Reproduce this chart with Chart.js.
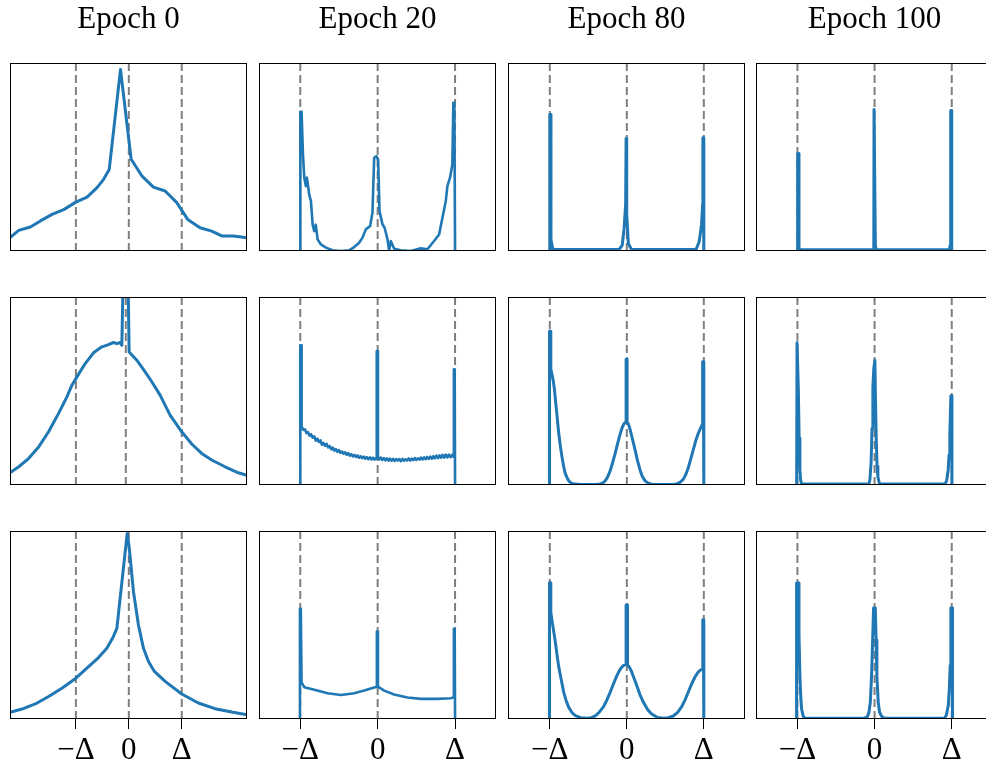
<!DOCTYPE html>
<html>
<head>
<meta charset="utf-8">
<script src="https://cdn.jsdelivr.net/npm/chart.js@4.4.1/dist/chart.umd.min.js"></script>
<style>
  html, body { margin: 0; padding: 0; background: #fff; overflow: hidden; width: 986px; height: 771px; }
  canvas { position: absolute; }
</style>
</head>
<body>
<script>
// Column titles and tick labels
const epochTitles = ['Epoch 0', 'Epoch 20', 'Epoch 80', 'Epoch 100'];
const tickValues = [-1, 0, 1];
const tickLabels = ['\u2212\u0394', '0', '\u0394'];

// dashed guide lines at -Delta, 0, Delta (row 2 of epoch 0 has its zero line a bit to the left)
const guideLines = [-1, 0, 1];
const guideLinesShifted = [-1, -0.057, 1];

// histogram curves, [x in units of Delta, height as fraction of the panel]
const epoch0Row1 = [[-2.245,0.071],[-2.08,0.11],[-1.86,0.128],[-1.67,0.16],[-1.45,0.195],[-1.23,0.22],[-1.0,0.26],[-0.79,0.287],[-0.6,0.337],[-0.48,0.38],[-0.37,0.434],[-0.157,0.966],[0.044,0.488],[0.245,0.4],[0.465,0.34],[0.686,0.319],[0.906,0.257],[1.113,0.168],[1.346,0.124],[1.566,0.106],[1.755,0.08],[1.975,0.08],[2.233,0.071]];
const epoch0Row2 = [[-2.245,0.065],[-2.08,0.097],[-1.89,0.142],[-1.7,0.204],[-1.516,0.283],[-1.327,0.381],[-1.17,0.469],[-1.075,0.531],[-0.98,0.575],[-0.824,0.646],[-0.667,0.703],[-0.509,0.735],[-0.384,0.747],[-0.289,0.758],[-0.226,0.752],[-0.164,0.758],[-0.132,0.743],[-0.1,1.2],[-0.02,1.2],[0.006,0.708],[0.151,0.664],[0.308,0.602],[0.434,0.549],[0.591,0.478],[0.78,0.372],[1.0,0.283],[1.189,0.218],[1.377,0.168],[1.566,0.133],[1.818,0.097],[2.069,0.065],[2.233,0.051]];
const epoch0Row3 = [[-2.245,0.035],[-2.019,0.053],[-1.767,0.08],[-1.516,0.12],[-1.264,0.164],[-1.0,0.217],[-0.761,0.279],[-0.572,0.327],[-0.415,0.376],[-0.308,0.429],[-0.226,0.482],[-0.031,0.986],[0.006,0.915],[0.088,0.677],[0.182,0.5],[0.277,0.376],[0.371,0.306],[0.484,0.253],[0.686,0.2],[1.0,0.133],[1.314,0.085],[1.629,0.055],[1.943,0.037],[2.233,0.023]];

const epoch20Row1 = [[-1.0,0],[-0.999,0.74],[-0.983,0.74],[-0.965,0.513],[-0.948,0.39],[-0.927,0.345],[-0.914,0.39],[-0.884,0.3],[-0.862,0.265],[-0.84,0.14],[-0.819,0.106],[-0.8,0.14],[-0.776,0.062],[-0.733,0.035],[-0.669,0.018],[-0.583,0.004],[-0.475,0],[-0.368,0.004],[-0.303,0.021],[-0.239,0.044],[-0.196,0.071],[-0.153,0.115],[-0.097,0.133],[-0.067,0.204],[-0.045,0.496],[-0.019,0.504],[0.006,0.487],[0.024,0.212],[0.062,0.142],[0.09,0.124],[0.127,0.062],[0.148,0],[0.17,0.053],[0.213,0.012],[0.3,0.004],[0.428,0],[0.557,0.014],[0.643,0.009],[0.729,0.053],[0.794,0.088],[0.837,0.177],[0.88,0.265],[0.901,0.345],[0.935,0.39],[0.965,0.46],[0.978,0.788],[0.991,0.788],[1.0,0]];
const epoch20Row2 = [[-1.0,0],[-1.0,0.743],[-0.99,0.743],[-0.985,0.33],
  [-0.98,0.31],[-0.96,0.293],[-0.94,0.296],[-0.92,0.276],[-0.9,0.281],[-0.88,0.262],[-0.86,0.27],[-0.84,0.252],[-0.82,0.259],[-0.8,0.236],
  [-0.78,0.247],[-0.76,0.229],[-0.74,0.238],[-0.72,0.214],[-0.7,0.224],[-0.68,0.208],[-0.66,0.219],[-0.64,0.2],[-0.62,0.207],[-0.6,0.19],
  [-0.58,0.199],[-0.56,0.183],[-0.54,0.191],[-0.52,0.176],[-0.5,0.186],[-0.48,0.171],[-0.46,0.178],[-0.44,0.166],[-0.42,0.174],[-0.4,0.161],
  [-0.38,0.169],[-0.36,0.156],[-0.34,0.164],[-0.32,0.152],[-0.3,0.16],[-0.28,0.149],[-0.26,0.157],[-0.24,0.145],[-0.22,0.153],[-0.2,0.143],
  [-0.18,0.151],[-0.16,0.14],[-0.14,0.148],[-0.12,0.137],[-0.1,0.147],[-0.08,0.136],[-0.06,0.145],[-0.04,0.135],[-0.02,0.144],
  [-0.012,0.14],[-0.011,0.712],[0.0,0.712],[0.004,0.145],
  [0.02,0.136],[0.04,0.146],[0.06,0.133],[0.08,0.143],[0.1,0.131],[0.12,0.142],[0.14,0.13],[0.16,0.14],[0.18,0.129],[0.2,0.139],
  [0.22,0.128],[0.24,0.137],[0.26,0.13],[0.28,0.138],[0.3,0.127],[0.32,0.139],[0.34,0.129],[0.36,0.137],[0.38,0.131],[0.4,0.141],
  [0.42,0.13],[0.44,0.14],[0.46,0.132],[0.48,0.143],[0.5,0.133],[0.52,0.142],[0.54,0.135],[0.56,0.146],[0.58,0.136],[0.6,0.147],
  [0.62,0.137],[0.64,0.149],[0.66,0.139],[0.68,0.151],[0.7,0.14],[0.72,0.153],[0.74,0.142],[0.76,0.156],[0.78,0.143],[0.8,0.157],
  [0.82,0.145],[0.84,0.16],[0.86,0.146],[0.88,0.161],[0.9,0.147],[0.92,0.162],[0.94,0.148],[0.96,0.16],[0.98,0.15],
  [0.985,0.616],[0.995,0.616],[1.0,0]];
const epoch20Row3 = [[-1.006,0],[-1.004,0.586],[-0.993,0.586],[-0.983,0.195],[-0.948,0.169],[-0.819,0.156],[-0.647,0.137],[-0.475,0.128],[-0.303,0.137],[-0.174,0.151],[-0.067,0.165],[-0.012,0.172],[-0.01,0.465],[0.002,0.465],[0.004,0.172],[0.084,0.151],[0.213,0.13],[0.385,0.114],[0.557,0.107],[0.772,0.107],[0.944,0.11],[0.978,0.115],[0.985,0.48],[0.995,0.48],[1.0,0]];

const epoch80Row1 = [[-1.005,0],[-1.0,0.726],[-0.99,0.726],[-0.985,0.06],[-0.96,0.008],[-0.1,0.008],[-0.06,0.03],[-0.035,0.12],[-0.015,0.25],[-0.009,0.598],[-0.003,0.598],[0.0,0.2],[0.02,0.04],[0.06,0.008],[0.9,0.008],[0.94,0.05],[0.97,0.14],[0.985,0.25],[0.988,0.602],[0.995,0.602],[1.0,0]];
const epoch80Row2 = [[-1.009,0],[-1.004,0.818],[-0.991,0.818],[-0.987,0.619],[-0.97,0.585],[-0.957,0.558],[-0.94,0.51],[-0.927,0.451],[-0.91,0.385],[-0.897,0.327],[-0.88,0.262],[-0.862,0.204],[-0.84,0.145],[-0.819,0.097],[-0.8,0.062],[-0.776,0.039],[-0.75,0.02],[-0.72,0.01],[-0.68,0.005],[-0.6,0.003],[-0.4,0.003],[-0.345,0.006],[-0.31,0.011],[-0.28,0.022],[-0.25,0.042],[-0.216,0.075],[-0.185,0.118],[-0.151,0.168],[-0.12,0.22],[-0.086,0.272],[-0.06,0.306],[-0.034,0.328],[-0.009,0.336],[-0.009,0.669],[0.004,0.669],[0.004,0.336],[0.02,0.325],[0.043,0.295],[0.07,0.25],[0.108,0.186],[0.14,0.128],[0.172,0.08],[0.2,0.047],[0.237,0.022],[0.28,0.009],[0.323,0.004],[0.6,0.003],[0.647,0.006],[0.69,0.014],[0.733,0.03],[0.765,0.055],[0.797,0.09],[0.83,0.138],[0.862,0.186],[0.895,0.235],[0.927,0.274],[0.955,0.3],[0.978,0.319],[0.985,0.655],[0.995,0.655],[1.0,0]];
const epoch80Row3 = [[-1.009,0],[-1.004,0.725],[-0.991,0.725],[-0.987,0.568],[-0.97,0.52],[-0.948,0.462],[-0.925,0.4],[-0.905,0.337],[-0.885,0.28],[-0.862,0.231],[-0.84,0.185],[-0.819,0.142],[-0.79,0.1],[-0.754,0.062],[-0.71,0.033],[-0.668,0.018],[-0.6,0.007],[-0.517,0.004],[-0.46,0.007],[-0.41,0.016],[-0.36,0.035],[-0.302,0.066],[-0.26,0.1],[-0.216,0.142],[-0.17,0.19],[-0.129,0.231],[-0.09,0.262],[-0.052,0.282],[-0.009,0.293],[-0.009,0.607],[0.004,0.607],[0.009,0.288],[0.035,0.275],[0.065,0.249],[0.095,0.215],[0.129,0.178],[0.17,0.13],[0.216,0.089],[0.27,0.05],[0.323,0.027],[0.4,0.008],[0.474,0.004],[0.54,0.007],[0.603,0.016],[0.66,0.035],[0.711,0.064],[0.755,0.1],[0.797,0.142],[0.84,0.185],[0.884,0.222],[0.92,0.246],[0.948,0.258],[0.983,0.266],[0.987,0.528],[0.995,0.528],[1.0,0]];

const epoch100Row1 = [[-1.0,0],[-0.997,0.519],[-0.985,0.519],[-0.98,0.02],[-0.97,0.006],[-0.02,0.006],[-0.01,0.04],[-0.007,0.752],[0.005,0.752],[0.01,0.03],[0.02,0.006],[0.97,0.006],[0.98,0.03],[0.987,0.747],[0.997,0.747],[1.0,0]];
const epoch100Row2 = [[-1.01,0],[-1.005,0.756],[-0.995,0.756],[-0.988,0.504],[-0.978,0.25],[-0.968,0.08],[-0.958,0.025],[-0.946,0.005],[-0.073,0.005],[-0.06,0.03],[-0.045,0.12],[-0.033,0.3],[-0.022,0.52],[-0.01,0.62],[0.004,0.664],[0.012,0.45],[0.022,0.239],[0.032,0.1],[0.043,0.044],[0.06,0.012],[0.073,0.005],[0.914,0.005],[0.935,0.025],[0.954,0.08],[0.966,0.16],[0.976,0.274],[0.989,0.473],[1.0,0.473],[1.003,0]];
const epoch100Row3 = [[-1.013,0],[-1.011,0.723],[-0.99,0.723],[-0.98,0.45],[-0.968,0.231],[-0.957,0.12],[-0.946,0.053],[-0.925,0.015],[-0.903,0.004],[-0.129,0.004],[-0.09,0.015],[-0.073,0.036],[-0.055,0.09],[-0.039,0.231],[-0.025,0.42],[-0.013,0.591],[0.009,0.591],[0.02,0.42],[0.03,0.231],[0.047,0.09],[0.065,0.036],[0.09,0.015],[0.129,0.004],[0.903,0.004],[0.93,0.02],[0.955,0.071],[0.968,0.15],[0.98,0.284],[0.989,0.591],[1.006,0.591],[1.01,0]];

const panels = [
  [epoch0Row1, epoch20Row1, epoch80Row1, epoch100Row1],
  [epoch0Row2, epoch20Row2, epoch80Row2, epoch100Row2],
  [epoch0Row3, epoch20Row3, epoch80Row3, epoch100Row3]
];

// x limits of each column (in units of Delta)
const xLimits = [[-2.245, 2.233], [-1.533, 1.529], [-1.543, 1.535], [-1.537, 1.535]];

// layout in page pixels
const colLeft = [10, 259, 508, 756];
const rowTop = [63, 297, 531];
const panelW = 237;
const panelH = 188;
const pad = 2;
const axisH = 52;

const serif = "'Liberation Serif', 'DejaVu Serif', serif";

// draws the box around each panel
const framePlugin = {
  id: 'frame',
  afterDraw(chart) {
    const { ctx, chartArea: a } = chart;
    ctx.save();
    ctx.strokeStyle = '#000';
    ctx.lineWidth = 1;
    ctx.strokeRect(a.left + 0.5, a.top + 0.5, a.right - a.left - 1, a.bottom - a.top - 1);
    ctx.restore();
  }
};

function makePanel(row, col) {
  const canvas = document.createElement('canvas');
  const top = row === 0 ? 0 : rowTop[row] - pad;
  const height = (rowTop[row] - top) + panelH + (row === 2 ? axisH : pad);
  canvas.width = panelW + 2 * pad;
  canvas.height = height;
  canvas.style.left = (colLeft[col] - pad) + 'px';
  canvas.style.top = top + 'px';
  document.body.appendChild(canvas);

  const lines = (row === 1 && col === 0) ? guideLinesShifted : guideLines;

  // the curve goes first so it is drawn over the dashed guides
  const datasets = [{
    data: panels[row][col].map(([x, y]) => ({ x, y })),
    borderColor: '#1f77b4',
    borderWidth: col === 1 ? 2.6 : 3,
    borderJoinStyle: 'round',
    pointRadius: 0,
    tension: 0
  }];

  lines.forEach(p => datasets.push({
    data: [{ x: p, y: 0 }, { x: p, y: 1 }],
    borderColor: '#7f7f7f',
    borderWidth: 2,
    borderDash: [8, 4],
    pointRadius: 0
  }));

  new Chart(canvas, {
    type: 'line',
    data: { datasets },
    options: {
      responsive: false,
      animation: false,
      devicePixelRatio: 1,
      events: [],
      layout: { padding: { left: pad, right: pad, top: row === 0 ? 0 : pad, bottom: row === 2 ? 0 : pad } },
      plugins: {
        legend: { display: false },
        tooltip: { enabled: false },
        title: {
          display: row === 0,
          text: epochTitles[col],
          color: '#000',
          font: { family: serif, size: 31, weight: 'normal', lineHeight: 1.2 },
          padding: { top: 1, bottom: 24.8 }
        }
      },
      scales: {
        x: {
          type: 'linear',
          min: xLimits[col][0],
          max: xLimits[col][1],
          display: row === 2,
          afterBuildTicks: s => { s.ticks = tickValues.map(v => ({ value: v })); },
          afterFit: s => { s.height = row === 2 ? axisH : 0; },
          grid: { display: true, drawOnChartArea: false, drawTicks: true, tickLength: 10, color: '#000', lineWidth: 1 },
          border: { display: false },
          ticks: {
            color: '#000',
            font: { family: serif, size: 31 },
            padding: 3,
            maxRotation: 0,
            autoSkip: false,
            callback: (v, i) => tickLabels[i]
          }
        },
        y: { display: false, min: 0, max: 1 }
      }
    },
    plugins: [framePlugin]
  });
}

for (let r = 0; r < 3; r++) {
  for (let c = 0; c < 4; c++) {
    makePanel(r, c);
  }
}
</script>
</body>
</html>
